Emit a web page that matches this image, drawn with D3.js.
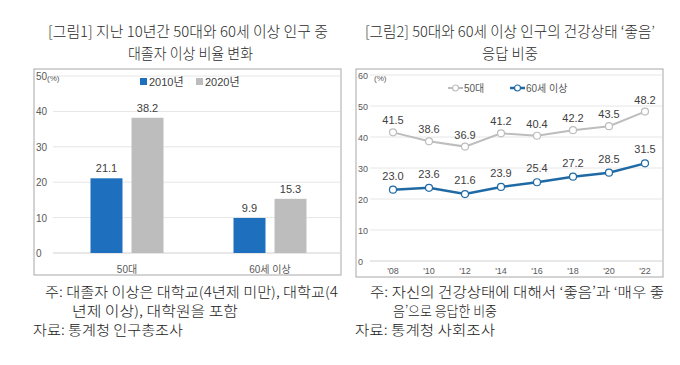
<!DOCTYPE html>
<html>
<head>
<meta charset="utf-8">
<script src="https://cdn.jsdelivr.net/npm/d3@7"></script>
<style>
  body { margin: 0; background: #fff; }
  svg text { font-family: "Liberation Sans", "Noto Sans CJK KR", sans-serif; }
  .kr { font-family: "Noto Sans CJK KR", sans-serif !important; }
</style>
</head>
<body>
<svg id="chart" width="680" height="365"></svg>
<script>
/* Consts - chart data */
// [그림1] bar chart
var barCategories = ["50대", "60세 이상"];
var barSeries = ["2010년", "2020년"];
var bar2010 = [21.1, 9.9];
var bar2020 = [38.2, 15.3];
var barTicks = [0, 10, 20, 30, 40, 50];

// [그림2] line chart
var lineYears = ["'08", "'10", "'12", "'14", "'16", "'18", "'20", "'22"];
var lineSeries = ["50대", "60세 이상"];
var line50s = [41.5, 38.6, 36.9, 41.2, 40.4, 42.2, 43.5, 48.2];
var line60s = [23.0, 23.6, 21.6, 23.9, 25.4, 27.2, 28.5, 31.5];
var lineTicks = [0, 10, 20, 30, 40, 50, 60];

// titles and notes
var titles1 = ["[그림1] 지난 10년간 50대와 60세 이상 인구 중", "대졸자 이상 비율 변화"];
var titles2 = ["[그림2] 50대와 60세 이상 인구의 건강상태 ‘좋음’", "응답 비중"];
var notes1 = ["주: 대졸자 이상은 대학교(4년제 미만), 대학교(4", "년제 이상), 대학원을 포함", "자료: 통계청 인구총조사"];
var notes2 = ["주: 자신의 건강상태에 대해서 ‘좋음’과 ‘매우 좋", "음’으로 응답한 비중", "자료: 통계청 사회조사"];

var BLUE = "#1f6fbf", GRAY = "#bdbdbd", LINEBLUE = "#1f6aa5", TXT = "#404040";

var svg = d3.select("#chart");

/* helper - text squeezed to a measured width */
function fitText(g, str, x, y, len, size, anchor, weight, color) {
    return g.append("text").attr("class", "kr")
        .attr("x", x).attr("y", y)
        .attr("text-anchor", anchor)
        .attr("font-size", size)
        .attr("font-weight", weight)
        .attr("fill", color)
        .attr("textLength", len)
        .attr("lengthAdjust", "spacingAndGlyphs")
        .text(str);
}

/* Titles */
fitText(svg, titles1[0], 188, 37, 280, 15, "middle", 300, "#2b2b2b");
fitText(svg, titles1[1], 190.5, 59, 125, 15, "middle", 300, "#2b2b2b");
fitText(svg, titles2[0], 510, 37, 290, 15, "middle", 300, "#2b2b2b");
fitText(svg, titles2[1], 510, 59, 56, 15, "middle", 300, "#2b2b2b");

/* Notes */
fitText(svg, notes1[0], 45, 297, 293, 14, "start", 300, "#222");
fitText(svg, notes1[1], 72, 316, 166, 14, "start", 300, "#222");
fitText(svg, notes1[2], 33, 335, 150, 14, "start", 300, "#222");
fitText(svg, notes2[0], 370, 297, 294, 14, "start", 300, "#222");
fitText(svg, notes2[1], 393, 316, 104, 14, "start", 300, "#222");
fitText(svg, notes2[2], 355, 335, 140, 14, "start", 300, "#222");

/* ---------- [그림1] bars ---------- */
var g1 = svg.append("g");
g1.append("rect").attr("x", 34).attr("y", 69).attr("width", 307).attr("height", 206)
    .attr("fill", "none").attr("stroke", "#a8a8a8").attr("stroke-width", 1);

var y1 = d3.scaleLinear().domain([0, 50]).range([253, 76]);
var x1 = d3.scaleBand().domain(barCategories).range([55.5, 341.5]);
var xs1 = d3.scaleBand().domain(barSeries).range([-36.5, 36.5]).paddingInner(0.22);

g1.selectAll(".grid").data(barTicks).enter().append("line")
    .attr("x1", 53).attr("x2", 340)
    .attr("y1", function (d) { return y1(d); }).attr("y2", function (d) { return y1(d); })
    .attr("stroke", function (d) { return d === 0 ? "#d0d0d0" : "#e6e6e6"; });

g1.selectAll(".tick").data(barTicks).enter().append("text")
    .attr("x", 36).attr("y", function (d) { return y1(d) + 4; })
    .attr("font-size", 10).attr("fill", "#595959")
    .text(function (d) { return d; });
g1.append("text").attr("x", 47).attr("y", 81).attr("font-size", 8).attr("fill", "#595959").text("(%)");

var barData = [];
barCategories.forEach(function (c, i) {
    barData.push({ cat: c, ser: barSeries[0], v: bar2010[i], color: BLUE });
    barData.push({ cat: c, ser: barSeries[1], v: bar2020[i], color: GRAY });
});

g1.selectAll(".bar").data(barData).enter().append("rect")
    .attr("x", function (d) { return x1(d.cat) + x1.bandwidth() / 2 + xs1(d.ser); })
    .attr("y", function (d) { return y1(d.v); })
    .attr("width", xs1.bandwidth())
    .attr("height", function (d) { return y1(0) - y1(d.v); })
    .attr("fill", function (d) { return d.color; });

g1.selectAll(".val").data(barData).enter().append("text")
    .attr("x", function (d) { return x1(d.cat) + x1.bandwidth() / 2 + xs1(d.ser) + xs1.bandwidth() / 2; })
    .attr("y", function (d) { return y1(d.v) - 6; })
    .attr("text-anchor", "middle").attr("font-size", 11).attr("fill", TXT)
    .text(function (d) { return d.v.toFixed(1); });

g1.selectAll(".cat").data(barCategories).enter().append("text")
    .attr("x", function (d) { return x1(d) + x1.bandwidth() / 2; })
    .attr("y", 273)
    .attr("text-anchor", "middle").attr("font-size", 10).attr("fill", "#595959")
    .text(function (d) { return d; });

// legend
var leg1 = g1.selectAll(".leg").data(barSeries).enter().append("g")
    .attr("transform", function (d, i) { return "translate(" + (140 + i * 56) + ",78)"; });
leg1.append("rect").attr("width", 7).attr("height", 7)
    .attr("fill", function (d, i) { return i === 0 ? BLUE : GRAY; });
leg1.append("text").attr("x", 9).attr("y", 7.5).attr("font-size", 11).attr("fill", TXT)
    .text(function (d) { return d; });

/* ---------- [그림2] lines ---------- */
var g2 = svg.append("g");
g2.append("rect").attr("x", 356).attr("y", 69).attr("width", 307).attr("height", 208)
    .attr("fill", "none").attr("stroke", "#a8a8a8").attr("stroke-width", 1);

var y2 = d3.scaleLinear().domain([0, 60]).range([261, 75]);
var x2 = d3.scalePoint().domain(lineYears).range([393, 645]);

g2.selectAll(".grid").data(lineTicks).enter().append("line")
    .attr("x1", 370).attr("x2", 662)
    .attr("y1", function (d) { return y2(d); }).attr("y2", function (d) { return y2(d); })
    .attr("stroke", function (d) { return d === 0 ? "#d0d0d0" : "#e6e6e6"; });

g2.selectAll(".tick").data(lineTicks).enter().append("text")
    .attr("x", 358).attr("y", function (d) { return y2(d) + 3.5; })
    .attr("font-size", 9).attr("fill", "#595959")
    .text(function (d) { return d; });
g2.append("text").attr("x", 374).attr("y", 81).attr("font-size", 8).attr("fill", "#595959").text("(%)");

g2.selectAll(".xl").data(lineYears).enter().append("text")
    .attr("x", function (d) { return x2(d); }).attr("y", 274)
    .attr("text-anchor", "middle").attr("font-size", 9).attr("fill", "#595959")
    .text(function (d) { return d; });

var series = [
    { name: lineSeries[0], values: line50s, color: GRAY, width: 2, off: 8 },
    { name: lineSeries[1], values: line60s, color: LINEBLUE, width: 2.5, off: 10 }
];
var line = d3.line()
    .x(function (d, i) { return x2(lineYears[i]); })
    .y(function (d) { return y2(d); });

series.forEach(function (s) {
    g2.append("path").datum(s.values).attr("d", line)
        .attr("fill", "none").attr("stroke", s.color).attr("stroke-width", s.width);
    g2.selectAll(null).data(s.values).enter().append("circle")
        .attr("cx", function (d, i) { return x2(lineYears[i]); })
        .attr("cy", function (d) { return y2(d); })
        .attr("r", 3.5).attr("fill", "#fff")
        .attr("stroke", s.color).attr("stroke-width", 1.2);
    g2.selectAll(null).data(s.values).enter().append("text")
        .attr("x", function (d, i) { return x2(lineYears[i]); })
        .attr("y", function (d) { return y2(d) - s.off; })
        .attr("text-anchor", "middle").attr("font-size", 11).attr("fill", TXT)
        .text(function (d) { return d.toFixed(1); });
});

// legend
var leg2 = g2.selectAll(".leg").data(series).enter().append("g")
    .attr("transform", function (d, i) { return "translate(" + (448 + i * 62) + ",88)"; });
leg2.append("line").attr("x1", 0).attr("x2", 15)
    .attr("stroke", function (d) { return d.color; })
    .attr("stroke-width", function (d) { return d.width; });
leg2.append("circle").attr("cx", 7.5).attr("r", 3).attr("fill", "#fff")
    .attr("stroke", function (d) { return d.color; }).attr("stroke-width", 1.2);
leg2.append("text").attr("x", 16).attr("y", 4).attr("font-size", 10).attr("fill", "#595959")
    .text(function (d) { return d.name; });
</script>
</body>
</html>
